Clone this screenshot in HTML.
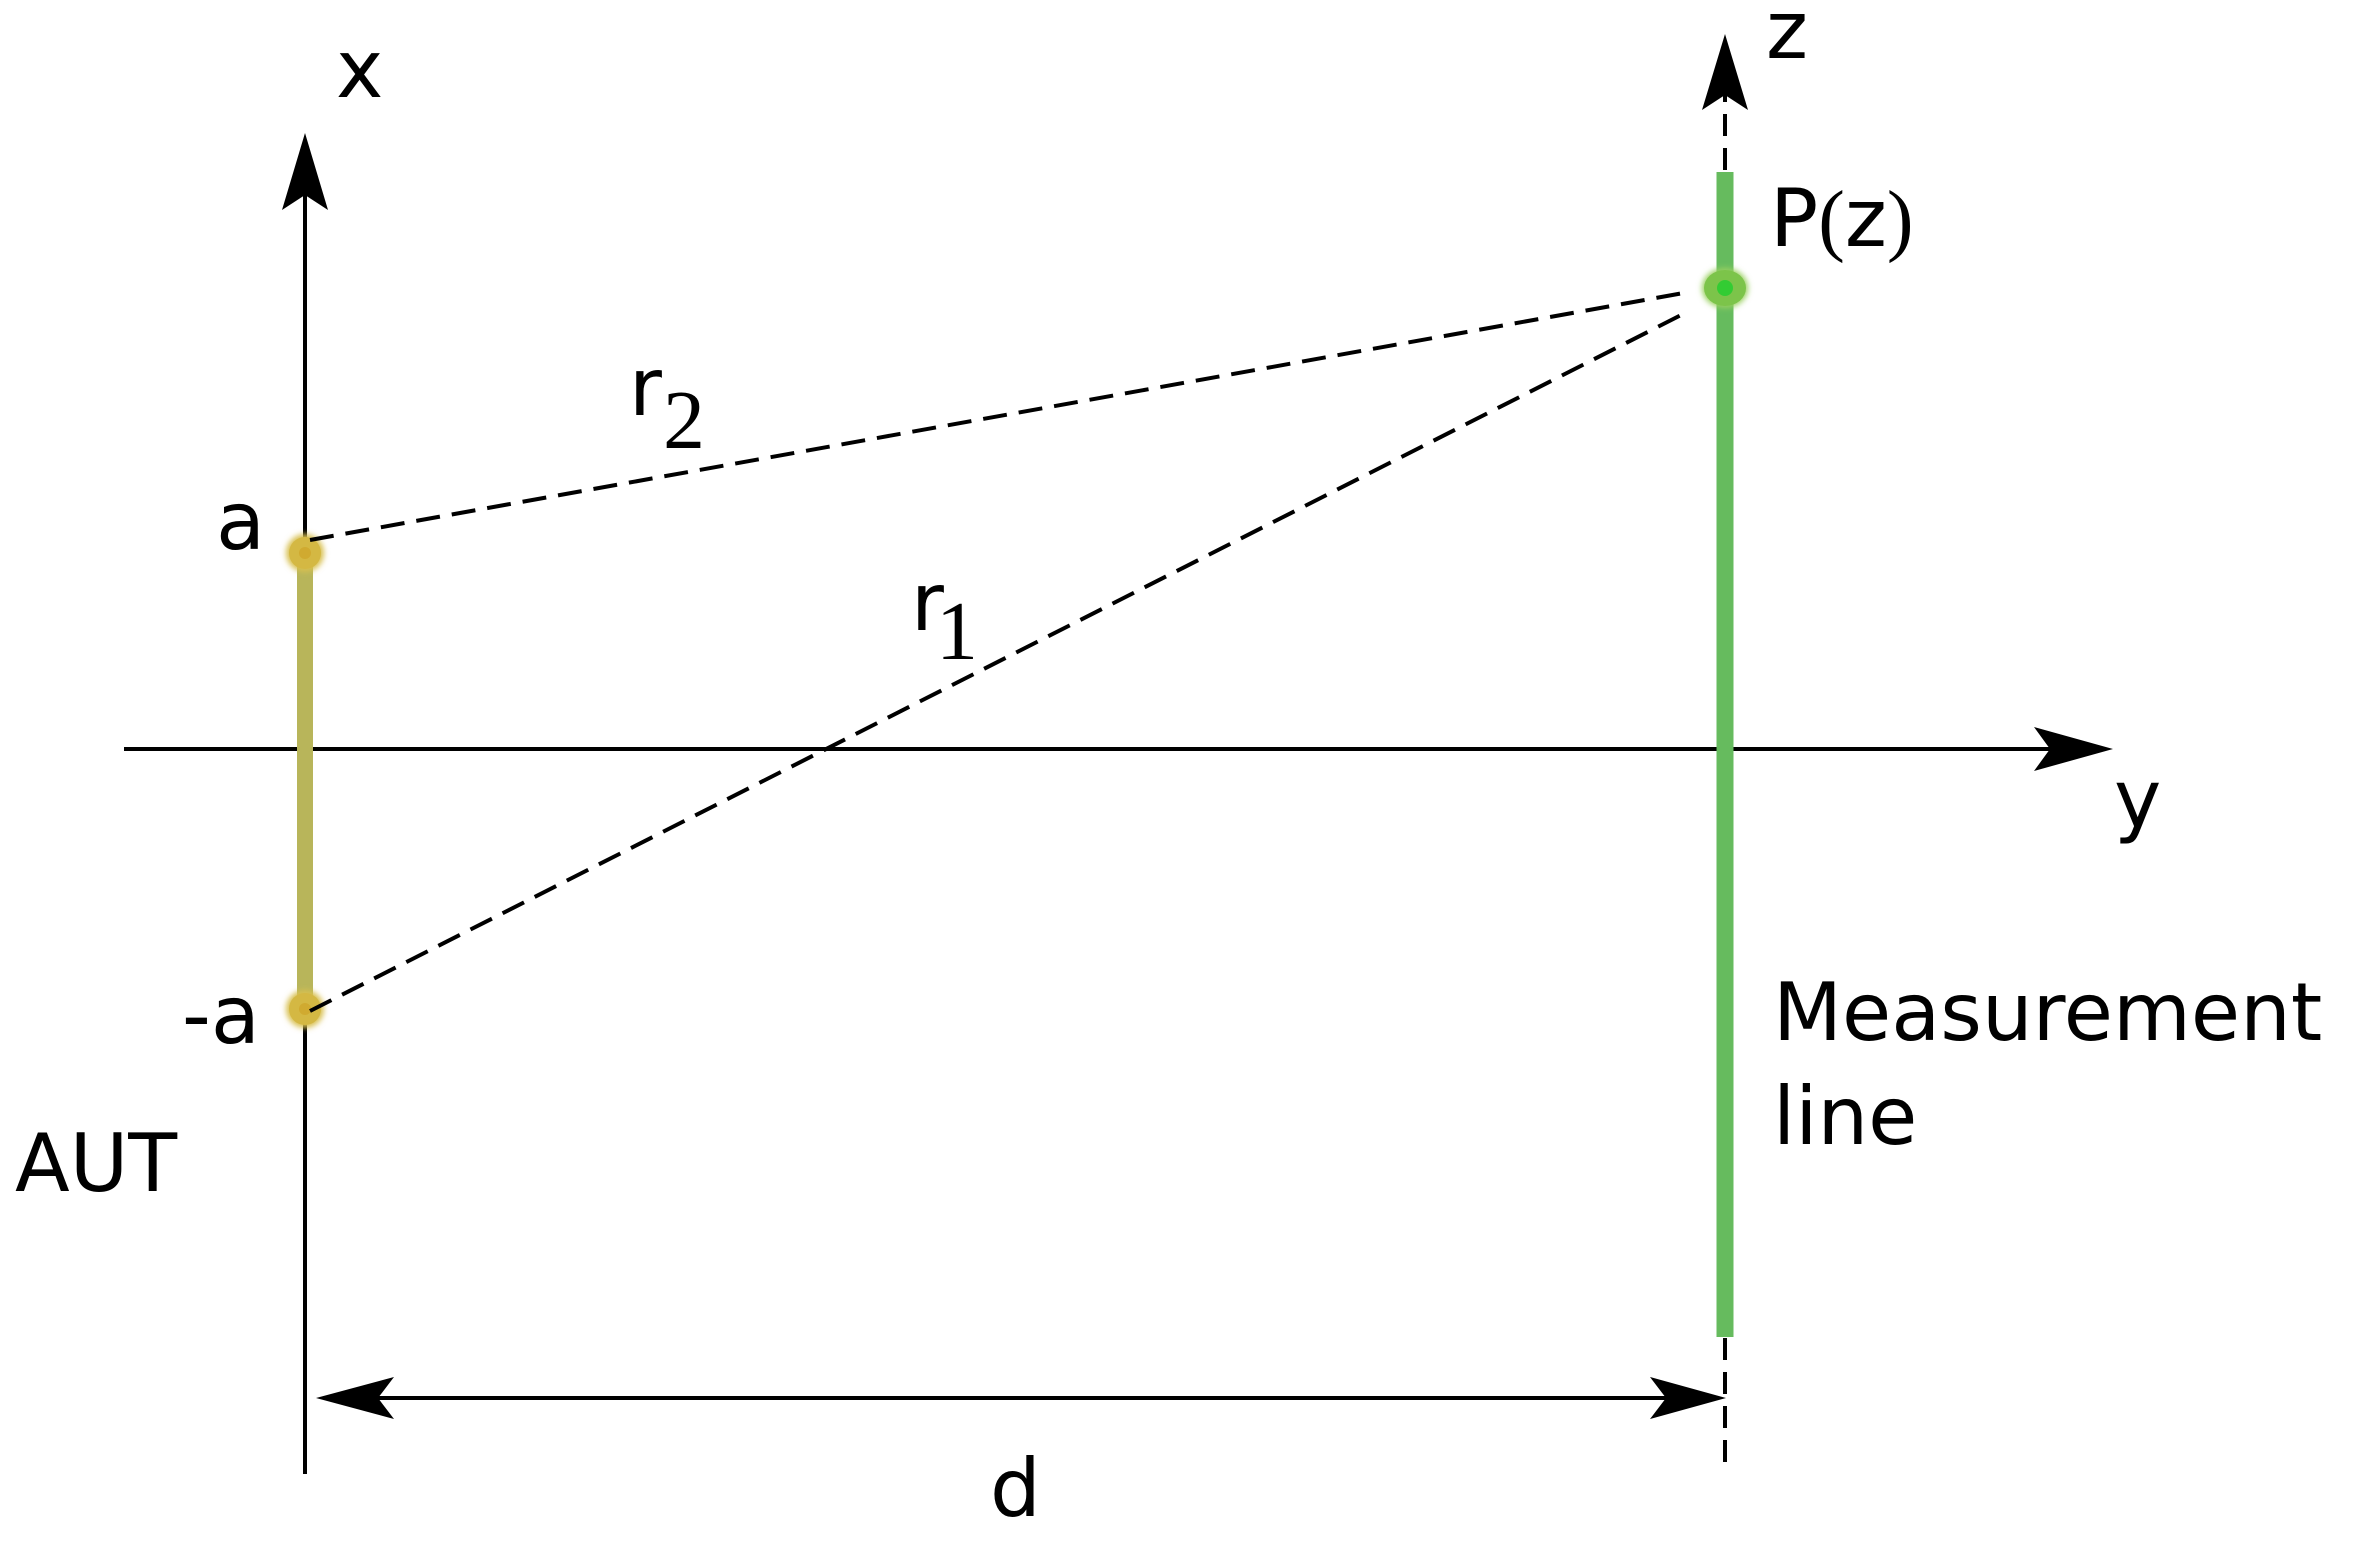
<!DOCTYPE html>
<html><head><meta charset="utf-8"><style>html,body{margin:0;padding:0;background:#fff}svg{display:block}</style></head>
<body>
<svg width="2356" height="1543" viewBox="0 0 2356 1543" xmlns="http://www.w3.org/2000/svg">
<defs>
<filter id="glow" x="-1" y="-1" width="3" height="3"><feGaussianBlur stdDeviation="3"/></filter>
</defs>
<line x1="305" y1="1474" x2="305" y2="160" stroke="#000" stroke-width="4"/>
<path d="M305,133 L328,210 L305,195 L282,210 Z" fill="#000"/>
<line x1="124" y1="749" x2="2090" y2="749" stroke="#000" stroke-width="4"/>
<path d="M2113,749 L2034,727 L2050,749 L2034,771 Z" fill="#000"/>
<line x1="1725" y1="1462" x2="1725" y2="70" stroke="#000" stroke-width="4" stroke-dasharray="22,12"/>
<path d="M1725,34 L1748,110 L1725,95 L1702,110 Z" fill="#000"/>
<line x1="305" y1="553" x2="305" y2="1009" stroke="#b8b55a" stroke-width="16"/>
<ellipse cx="305" cy="553" rx="19" ry="19" fill="#d8c050" filter="url(#glow)"/>
<ellipse cx="305" cy="553" rx="16" ry="16" fill="#d4b843"/>
<circle cx="305" cy="553" r="6" fill="#d0aa30"/>
<ellipse cx="305" cy="1009" rx="19" ry="19" fill="#d8c050" filter="url(#glow)"/>
<ellipse cx="305" cy="1009" rx="16" ry="16" fill="#d4b843"/>
<circle cx="305" cy="1009" r="6" fill="#d0aa30"/>
<line x1="1725" y1="172" x2="1725" y2="1337" stroke="#66bb5e" stroke-width="17"/>
<ellipse cx="1725" cy="288" rx="23" ry="20" fill="#9ad060" filter="url(#glow)"/>
<ellipse cx="1725" cy="288" rx="21" ry="18" fill="#7cc44a"/>
<circle cx="1725" cy="288" r="8" fill="#33cc33"/>
<line x1="310" y1="540" x2="1689" y2="292" stroke="#000" stroke-width="4" stroke-dasharray="24,12"/>
<line x1="310" y1="1011" x2="1689" y2="311" stroke="#000" stroke-width="4" stroke-dasharray="24,12"/>
<line x1="330" y1="1398" x2="1700" y2="1398" stroke="#000" stroke-width="4"/>
<path d="M316,1398 L394,1377 L378,1398 L394,1419 Z" fill="#000"/>
<path d="M1726,1398 L1650,1377 L1666,1398 L1650,1419 Z" fill="#000"/>
<g font-family="DejaVu Sans, sans-serif" font-size="80" fill="#000">
<text x="336" y="97">x</text>
<text x="1766" y="58">z</text>
<text x="1770" y="246">P<tspan font-family="Liberation Serif, serif">(</tspan>z<tspan font-family="Liberation Serif, serif">)</tspan></text>
<text x="216" y="549">a</text>
<text x="182" y="1043">-a</text>
<text x="15" y="1191">AUT</text>
<text x="2114" y="827">y</text>
<text x="1773" y="1040">Measurement</text>
<text x="1773" y="1144">line</text>
<text x="990" y="1516">d</text>
<text x="629" y="415">r</text>
<text x="911" y="630">r</text>
</g>
<g font-family="Liberation Serif, serif" font-size="84" fill="#000">
<text x="663" y="448">2</text>
<text x="936" y="659">1</text>
</g>
</svg>
</body></html>
